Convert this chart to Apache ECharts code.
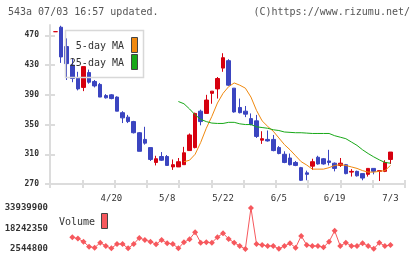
<!DOCTYPE html>
<html>
<head>
<meta charset="utf-8">
<script src="https://cdn.jsdelivr.net/npm/echarts@6/dist/echarts.min.js"></script>
<style>
  html, body { margin: 0; padding: 0; background: #fff; }
  #chart { width: 420px; height: 259px; }
</style>
</head>
<body>
<div id="chart"></div>
<script>
// trading days (4/6 - 7/3)
const dates = ['4/6','4/7','4/8','4/9','4/10','4/13','4/14','4/15','4/16','4/17',
  '4/20','4/21','4/22','4/23','4/24','4/27','4/28','4/30','5/1','5/7',
  '5/8','5/11','5/12','5/13','5/14','5/15','5/18','5/19','5/20','5/21',
  '5/22','5/25','5/26','5/27','5/28','5/29','6/1','6/2','6/3','6/4',
  '6/5','6/8','6/9','6/10','6/11','6/12','6/15','6/16','6/17','6/18',
  '6/19','6/22','6/23','6/24','6/25','6/26','6/29','6/30','7/1','7/2','7/3'];
const opens  = [475,481,455,430,413,400,420,408,404,389,390,387,366,360,354,339,330,319,299,307,
  307,293,293,296,315,319,368,365,392,398,426,436,399,373,368,358,355,329,330,330,
  319,310,305,299,292,285,294,306,304,301,298,295,296,286,287,284,283,291,287,287,303];
const closes = [475,441,432,412,398,428,407,402,387,386,385,368,359,354,339,314,325,303,304,302,
  295,296,300,312,336,365,354,383,395,412,440,403,367,366,364,350,334,331,328,315,
  311,299,296,295,275,283,300,297,297,299,291,298,284,287,281,278,291,287,288,299,313];
const lows   = [475,433,410,407,396,395,405,400,387,385,384,368,352,352,338,314,323,301,295,301,
  295,289,293,296,315,318,349,365,378,385,421,402,366,365,360,349,332,324,327,314,
  310,298,295,294,274,275,289,296,296,295,287,293,283,280,280,275,280,283,274,286,297];
const highs  = [475,483,466,439,421,428,424,410,406,391,391,388,368,363,355,340,347,319,308,313,
  309,303,305,320,338,366,370,390,395,414,446,438,399,385,375,365,363,341,342,336,
  321,314,311,301,293,288,304,308,305,316,299,305,297,290,288,284,291,291,288,302,313];
// moving averages (null = not drawn)
const ma5 = [null,null,null,null,null,null,null,null,null,null,null,null,null,null,null,null,null,null,null,null,
  null,null,null,300,302,310,326,345,361,379,392,401,406,403,399,387,369,355,347.5,341,
  332,323,316,308,300,295.5,290,290,290,292,295,296,295,293,291,288,286,286,287,288,295];
const ma25 = [null,null,null,null,null,null,null,null,null,null,null,null,null,null,null,null,null,null,null,null,
  null,null,381,378,371,363,357,354,352,351.5,351.5,353,353,351,350,350,347,346,345,343,
  342,340,339.5,339,339,338.5,338,338,338,338,335,333,331,326.5,322,316,311,306.5,302.5,299,298];
const volumes = [null,null,null,11570000,10490000,8180000,4320000,3550000,7400000,4860000,
  3090000,6400000,6300000,3100000,6400000,11030000,9490000,8180000,6170000,9490000,
  6940000,6400000,3090000,7710000,10030000,15430000,7400000,7710000,7400000,11570000,
  14650000,10260000,7400000,4860000,2544800,33939900,6400000,5630000,4860000,4900000,
  2650000,4860000,6940000,3550000,12570000,5630000,4860000,4860000,3860000,8180000,
  16430000,4860000,7400000,4860000,4860000,6940000,4860000,2650000,7400000,4860000,5630000];

const dateLabels = ['4/20','5/8','5/22','6/5','6/19','7/3'];
const priceTicks = [270,310,350,390,430,470];
const volTicks = [2544800,18242350,33939900];

const RED = '#d6000f';
const BLUE = '#3b45c0';
const ORANGE = '#f0890f';
const GREEN = '#18a818';
const VOLC = '#f6585d';
const AXC = '#dcdcdc';
const FONT = 'DejaVu Sans Mono';

const XMAX = 63.6; // x range in trading-day units
const xTicks = [];
for (let k = 0; k <= 11; k++) xTicks.push(XMAX * k / 11);
const labelPos = dateLabels.map(d => dates.indexOf(d) + 1);

const candles = dates.map((d, i) => [i + 1, opens[i], closes[i], lows[i], highs[i]]);
const toPairs = arr => arr.map((v, i) => [i + 1, v]).filter(p => p[1] != null);

const chart = echarts.init(document.getElementById('chart'), null, { renderer: 'canvas' });
const lineStyle = { color: AXC, width: 2 };

chart.setOption({
  animation: false,
  backgroundColor: '#fff',
  title: [
    { text: '543a 07/03 16:57 updated.', left: 8, top: 7, padding: 0,
      textStyle: { fontFamily: FONT, fontSize: 10, fontWeight: 'normal', color: '#555' } },
    { text: '(C)https://www.rizumu.net/', right: 10, top: 7, padding: 0,
      textStyle: { fontFamily: FONT, fontSize: 10, fontWeight: 'normal', color: '#555' } }
  ],
  grid: [
    { left: 50, right: 15, top: 25, bottom: 75 },
    { left: 50, right: 15, top: 208, bottom: 10 }
  ],
  xAxis: [
    { type: 'value', gridIndex: 0, position: 'bottom', min: 0, max: XMAX,
      axisLine: { show: true, onZero: false, lineStyle },
      axisTick: { show: true, customValues: xTicks, length: 4, lineStyle },
      axisLabel: { customValues: labelPos, formatter: v => dates[v - 1], margin: 10,
        fontFamily: FONT, fontSize: 9, color: '#333' },
      splitLine: { show: false } },
    { type: 'value', gridIndex: 0, position: 'bottom', min: 0, max: XMAX,
      axisLine: { show: false, onZero: false },
      axisTick: { show: true, inside: true, customValues: xTicks, length: 4, lineStyle },
      axisLabel: { show: false }, splitLine: { show: false } },
    { type: 'value', gridIndex: 1, min: 0, max: XMAX, show: false }
  ],
  yAxis: [
    { type: 'value', gridIndex: 0, position: 'left', min: 270, max: 484,
      axisLine: { show: true, onZero: false, lineStyle },
      axisTick: { show: true, customValues: priceTicks, length: 5, lineStyle },
      axisLabel: { customValues: priceTicks, margin: 11, fontFamily: FONT, fontSize: 8,
        fontWeight: 'bold', color: '#333' },
      splitLine: { show: false } },
    { type: 'value', gridIndex: 0, position: 'left', min: 270, max: 484,
      axisLine: { show: false, onZero: false },
      axisTick: { show: true, inside: true, customValues: priceTicks, length: 5, lineStyle },
      axisLabel: { show: false }, splitLine: { show: false } },
    { type: 'value', gridIndex: 1, position: 'left', min: volTicks[0], max: volTicks[2],
      axisLine: { show: false }, axisTick: { show: false },
      axisLabel: { customValues: volTicks, margin: 2, fontFamily: FONT, fontSize: 9,
        fontWeight: 'bold', color: '#333', formatter: v => String(Math.round(v)) },
      splitLine: { show: false } }
  ],
  series: [
    { type: 'candlestick', xAxisIndex: 0, yAxisIndex: 0, data: candles,
      encode: { x: 0, y: [1, 2, 3, 4] }, barWidth: 4,
      itemStyle: { color: RED, color0: BLUE, borderColor: RED, borderColor0: BLUE, borderWidth: 1 } },
    { type: 'line', name: '5-day MA', xAxisIndex: 0, yAxisIndex: 0, data: toPairs(ma5),
      symbol: 'none', lineStyle: { color: ORANGE, width: 1 } },
    { type: 'line', name: '25-day MA', xAxisIndex: 0, yAxisIndex: 0, data: toPairs(ma25),
      symbol: 'none', lineStyle: { color: GREEN, width: 1 } },
    { type: 'line', name: 'Volume', xAxisIndex: 2, yAxisIndex: 2, data: toPairs(volumes),
      symbol: 'diamond', symbolSize: 6, itemStyle: { color: VOLC },
      lineStyle: { color: VOLC, width: 1 } }
  ],
  graphic: [
    { type: 'rect', z: 100, shape: { x: 65.5, y: 30.5, width: 78, height: 47 },
      style: { fill: 'none', stroke: '#d8d8d8', lineWidth: 1.5 } },
    { type: 'text', z: 101, x: 124, y: 46,
      style: { text: '5-day MA', fill: '#333', font: '10px ' + FONT, align: 'right', verticalAlign: 'middle' } },
    { type: 'text', z: 101, x: 124, y: 63,
      style: { text: '25-day MA', fill: '#333', font: '10px ' + FONT, align: 'right', verticalAlign: 'middle' } },
    { type: 'rect', z: 101, shape: { x: 131.5, y: 37.5, width: 6, height: 15 },
      style: { fill: ORANGE, stroke: '#444', lineWidth: 1 } },
    { type: 'rect', z: 101, shape: { x: 131.5, y: 54.5, width: 6, height: 15 },
      style: { fill: GREEN, stroke: '#444', lineWidth: 1 } },
    { type: 'text', z: 101, x: 59, y: 222,
      style: { text: 'Volume', fill: '#333', font: '10px ' + FONT, align: 'left', verticalAlign: 'middle' } },
    { type: 'rect', z: 101, shape: { x: 101.5, y: 213.5, width: 6, height: 15 },
      style: { fill: VOLC, stroke: '#444', lineWidth: 1 } }
  ]
});
</script>
</body>
</html>
